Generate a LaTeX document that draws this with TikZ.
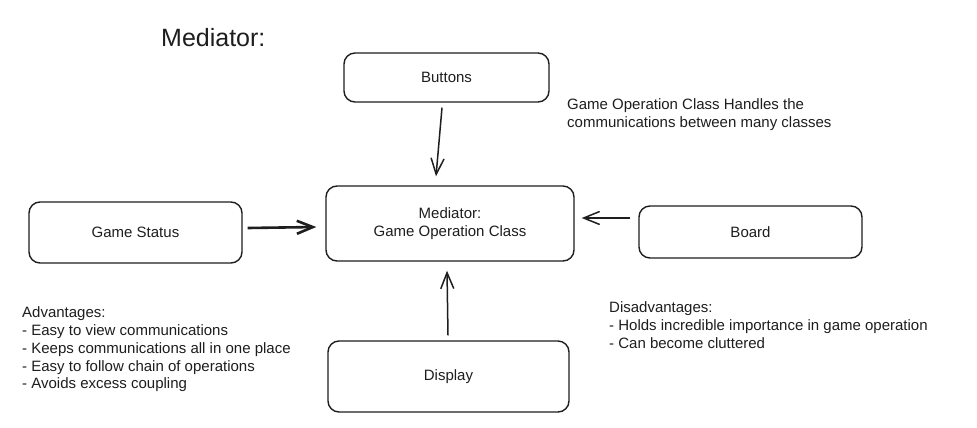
\documentclass[tikz,border=0pt]{standalone}
\usepackage{fontspec}
\setmainfont{Liberation Sans}
\usetikzlibrary{arrows.meta}
\definecolor{ink}{HTML}{1E1E1E}
\begin{document}
\begin{tikzpicture}[x=1pt,y=-1pt,
  box/.style={draw=ink,line width=1.4pt,rounded corners=11pt,inner sep=0pt,
    font=\fontsize{15}{17.5}\selectfont,text=ink,align=center},
  txt/.style={inner sep=0pt,anchor=base west,font=\fontsize{15}{17.5}\selectfont,text=ink},
  conn/.style={draw=ink,line width=1.5pt,-{Straight Barb[length=16pt,width=13pt]}},
]
\useasboundingbox[fill=white] (0,0) rectangle (977,428);

\node[inner sep=0pt,anchor=base west,font=\fontsize{25}{30}\selectfont,text=ink] (title) at (161,47) {Mediator:};

\node[box,minimum width=205pt,minimum height=49pt] (buttons) at (446.5,77.5) {Buttons};
\node[box,minimum width=248pt,minimum height=75pt] (med) at (450,223.5) {Mediator:\\Game Operation Class};
\node[box,minimum width=213pt,minimum height=61pt] (gs) at (135.5,232.5) {Game Status};
\node[box,minimum width=223pt,minimum height=52pt] (board) at (750.5,232) {Board};
\node[box,minimum width=241pt,minimum height=71pt] (disp) at (448.5,376.5) {Display};

\draw[conn] ([xshift=-4.5pt,yshift=-5pt]buttons.south) -- ([xshift=-14pt,yshift=9pt]med.north);
\draw[conn,line width=2.6pt] ([xshift=5pt,yshift=4.5pt]gs.east) -- ([xshift=-9pt,yshift=-3.5pt]med.west);
\draw[conn] ([xshift=-8pt,yshift=14pt]board.west) -- ([xshift=7pt,yshift=5.5pt]med.east);
\draw[conn] ([xshift=-0.5pt,yshift=5pt]disp.north) -- ([xshift=-3pt,yshift=-9pt]med.south);

\node[txt] (n1) at (567,110) {Game Operation Class Handles the};
\node[txt] (n2) at (567,127) {communications between many classes};

\node[txt] (a0) at (22,317) {Advantages:};
\node[txt] (a1) at (22,335) {- Easy to view communications};
\node[txt] (a2) at (22,353) {- Keeps communications all in one place};
\node[txt] (a3) at (22,371) {- Easy to follow chain of operations};
\node[txt] (a4) at (22,388) {- Avoids excess coupling};

\node[txt] (d0) at (609,312) {Disadvantages:};
\node[txt] (d1) at (609,330) {- Holds incredible importance in game operation};
\node[txt] (d2) at (609,348) {- Can become cluttered};
\end{tikzpicture}
\end{document}
